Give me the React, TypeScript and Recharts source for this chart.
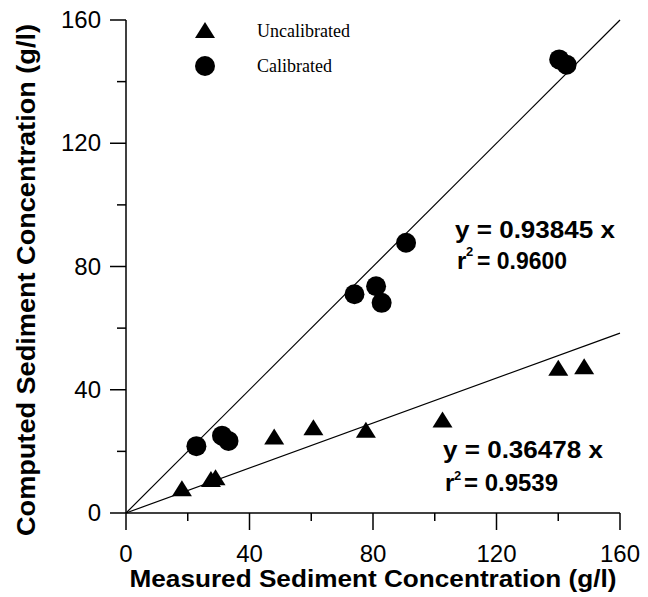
import React from "react";
import {
  ScatterChart,
  Scatter,
  XAxis,
  YAxis,
  ReferenceLine,
  Legend,
  Customized,
} from "recharts";

// ─── Data ────────────────────────────────────────────────────────────────────

const axisTicks = [0, 20, 40, 60, 80, 100, 120, 140, 160];
const labeledTicks = [0, 40, 80, 120, 160];

const uncalibratedX = [18.1, 27.5, 29.0, 48.0, 60.7, 77.7, 102.5, 140.0, 148.4];
const uncalibratedY = [7.2, 10.2, 10.8, 24.0, 27.0, 26.2, 29.5, 46.3, 46.8];

const calibratedX = [22.8, 31.1, 33.2, 74.0, 81.0, 82.8, 90.7, 140.3, 142.7];
const calibratedY = [21.7, 25.1, 23.4, 71.0, 73.6, 68.2, 87.7, 147.2, 145.5];

// fitted lines drawn through the origin
const upperLineEnd = { x: 160, y: 160 };
const lowerSlope = 0.36478;

const seriesNames = ["Uncalibrated", "Calibrated"];

const uncalibrated = uncalibratedX.map((x, i) => ({ x, y: uncalibratedY[i] }));
const calibrated = calibratedX.map((x, i) => ({ x, y: calibratedY[i] }));

const SANS = "'Liberation Sans', Arial, Helvetica, sans-serif";
const SERIF = "'Liberation Serif', 'Times New Roman', serif";

// ─── Marker shapes ───────────────────────────────────────────────────────────

function Triangle({ cx, cy }: { cx?: number; cy?: number }) {
  if (cx == null || cy == null) return null;
  return (
    <polygon
      points={`${cx},${cy - 10.5} ${cx - 10},${cy + 5.5} ${cx + 10},${cy + 5.5}`}
      fill="#000"
    />
  );
}

function Dot({ cx, cy }: { cx?: number; cy?: number }) {
  if (cx == null || cy == null) return null;
  return <circle cx={cx} cy={cy} r={10} fill="#000" />;
}

// ─── Ticks: long ticks with labels every 40, short ticks between ───────────

function XTick({ x, y, payload }: any) {
  const major = labeledTicks.includes(payload.value);
  return (
    <g>
      <line x1={x} y1={y} x2={x} y2={y + (major ? 17 : 8)} stroke="#000" strokeWidth={1.5} />
      {major && (
        <text x={x} y={y + 49} textAnchor="middle" fontSize={24} fontFamily={SANS} fill="#000">
          {payload.value}
        </text>
      )}
    </g>
  );
}

function YTick({ x, y, payload }: any) {
  const major = labeledTicks.includes(payload.value);
  return (
    <g>
      <line x1={x} y1={y} x2={x - (major ? 16 : 9)} y2={y} stroke="#000" strokeWidth={1.5} />
      {major && (
        <text x={x - 25} y={y + 8} textAnchor="end" fontSize={24} fontFamily={SANS} fill="#000">
          {payload.value}
        </text>
      )}
    </g>
  );
}

// ─── Legend ──────────────────────────────────────────────────────────────────

function LegendBox() {
  return (
    <svg width={260} height={80} style={{ display: "block" }}>
      <polygon points="15,4 5,20 25,20" fill="#000" />
      <text x={67} y={19} fontSize={18} fontFamily={SERIF} fill="#000">
        {seriesNames[0]}
      </text>
      <circle cx={15} cy={48} r={10} fill="#000" />
      <text x={67} y={54} fontSize={18} fontFamily={SERIF} fill="#000">
        {seriesNames[1]}
      </text>
    </svg>
  );
}

// ─── Equation annotations ────────────────────────────────────────────────────

function Equations() {
  const t = { fontFamily: SANS, fontWeight: 700, fill: "#000" } as const;
  return (
    <g>
      <text x={455} y={238} fontSize={24} textLength={160} lengthAdjust="spacingAndGlyphs" {...t}>
        y = 0.93845 x
      </text>
      <text x={457} y={269} fontSize={24} {...t}>r</text>
      <text x={466} y={256} fontSize={13} {...t}>2</text>
      <text x={477} y={269} fontSize={24} textLength={90} lengthAdjust="spacingAndGlyphs" {...t}>
        = 0.9600
      </text>

      <text x={443} y={458} fontSize={24} textLength={160} lengthAdjust="spacingAndGlyphs" {...t}>
        y = 0.36478 x
      </text>
      <text x={445} y={491} fontSize={24} {...t}>r</text>
      <text x={454} y={480} fontSize={13} {...t}>2</text>
      <text x={464} y={491} fontSize={24} textLength={94} lengthAdjust="spacingAndGlyphs" {...t}>
        = 0.9539
      </text>
    </g>
  );
}

// ─── Chart ───────────────────────────────────────────────────────────────────

export default function App() {
  return (
    <div style={{ position: "absolute", left: 0, top: 0, width: 648, height: 597, background: "#fff" }}>
      <ScatterChart width={648} height={597} margin={{ top: 20, right: 28, bottom: 0, left: 0 }}>
        <XAxis
          type="number"
          dataKey="x"
          domain={[0, 160]}
          ticks={axisTicks}
          interval={0}
          height={84}
          tickSize={0}
          tickMargin={0}
          tickLine={false}
          tick={<XTick />}
          axisLine={{ stroke: "#000", strokeWidth: 1.5 }}
          label={{
            content: ({ viewBox }: any) => (
              <text
                x={viewBox.x + viewBox.width / 2}
                y={587}
                textAnchor="middle"
                fontSize={24}
                fontWeight={700}
                fontFamily={SANS}
                textLength={487}
                lengthAdjust="spacingAndGlyphs"
                fill="#000"
              >
                Measured Sediment Concentration (g/l)
              </text>
            ),
          }}
        />
        <YAxis
          type="number"
          dataKey="y"
          domain={[0, 160]}
          ticks={axisTicks}
          interval={0}
          width={126}
          tickSize={0}
          tickMargin={0}
          tickLine={false}
          tick={<YTick />}
          axisLine={{ stroke: "#000", strokeWidth: 1.5 }}
          label={{
            content: () => (
              <text
                x={0}
                y={0}
                transform="translate(35,280) rotate(-90)"
                textAnchor="middle"
                fontSize={25}
                fontWeight={700}
                fontFamily={SANS}
                textLength={512}
                lengthAdjust="spacingAndGlyphs"
                fill="#000"
              >
                Computed Sediment Concentration (g/l)
              </text>
            ),
          }}
        />
        <ReferenceLine
          segment={[{ x: 0, y: 0 }, upperLineEnd]}
          stroke="#000"
          strokeWidth={1.2}
        />
        <ReferenceLine
          segment={[{ x: 0, y: 0 }, { x: 160, y: 160 * lowerSlope }]}
          stroke="#000"
          strokeWidth={1.2}
        />
        <Scatter
          name={seriesNames[0]}
          data={uncalibrated}
          shape={(p: any) => <Triangle cx={p.cx} cy={p.cy} />}
          isAnimationActive={false}
        />
        <Scatter
          name={seriesNames[1]}
          data={calibrated}
          shape={(p: any) => <Dot cx={p.cx} cy={p.cy} />}
          isAnimationActive={false}
        />
        <Legend
          layout="vertical"
          align="center"
          verticalAlign="middle"
          content={() => <LegendBox />}
          wrapperStyle={{ left: 190, top: 18, width: 260 }}
        />
        <Customized component={Equations} />
      </ScatterChart>
    </div>
  );
}
